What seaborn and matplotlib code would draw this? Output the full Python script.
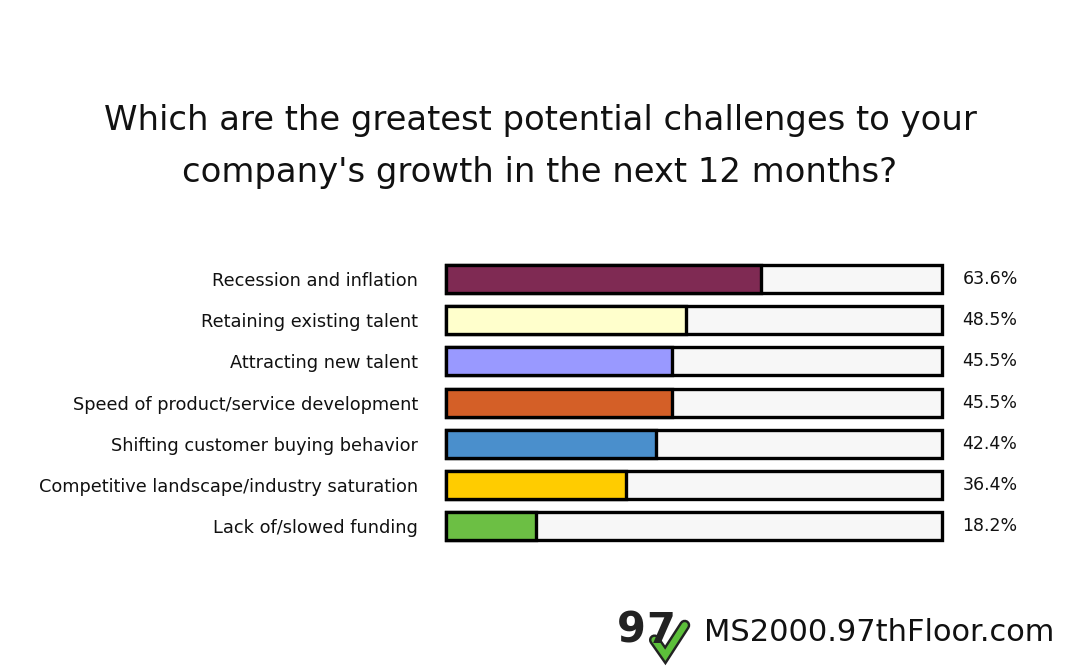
import matplotlib
matplotlib.use("Agg")
import matplotlib.pyplot as plt
import seaborn as sns
import pandas as pd
from matplotlib.lines import Line2D

categories = [
    "Recession and inflation",
    "Retaining existing talent",
    "Attracting new talent",
    "Speed of product/service development",
    "Shifting customer buying behavior",
    "Competitive landscape/industry saturation",
    "Lack of/slowed funding",
]
values = [63.6, 48.5, 45.5, 45.5, 42.4, 36.4, 18.2]
colors = ["#7f2a53", "#ffffcc", "#9999ff", "#d45f27", "#4a8fcc", "#ffcc00", "#6cbf44"]
title = "Which are the greatest potential challenges to your\ncompany's growth in the next 12 months?"
footer = "MS2000.97thFloor.com"

sns.set_theme(style="white")
plt.rcParams["font.family"] = ["DejaVu Sans"]

df = pd.DataFrame({"category": categories, "value": values, "full": [100] * len(values)})

fig = plt.figure(figsize=(10.8, 6.68), dpi=100)
fig.patch.set_facecolor("white")
ax = fig.add_axes([0.413, 0.1817, 0.459, 0.4314])

sns.barplot(data=df, x="full", y="category", color="#f7f7f7", edgecolor="black",
            linewidth=2.4, width=0.68, ax=ax, orient="h", saturation=1)
sns.barplot(data=df, x="value", y="category", hue="category", palette=colors,
            edgecolor="black", linewidth=2.4, width=0.68, ax=ax, orient="h",
            legend=False, dodge=False, saturation=1)
for p in ax.patches:
    p.set_clip_on(False)

ax.set_xlim(0, 100)
ax.set_ylim(6.5, -0.5)
ax.set_xlabel("")
ax.set_ylabel("")
ax.set_xticks([])
ax.tick_params(axis="y", length=0, pad=20, labelsize=12.8, labelcolor="#111111")
for s in ax.spines.values():
    s.set_visible(False)

for i, v in enumerate(values):
    ax.text(104.2, i, f"{v}%", va="center", ha="left", fontsize=12.5, color="#111111")

fig.text(0.5, 0.781, title, ha="center", va="center", fontsize=24.4, linespacing=1.75,
         color="#111111")

fig.text(0.976, 0.053, footer, ha="right", va="center", fontsize=22, color="#111111")
# simple logo: "97" with green check
fig.text(0.585, 0.056, "9", ha="center", va="center", fontsize=30, fontweight="bold", color="#222222")
fig.text(0.612, 0.056, "7", ha="center", va="center", fontsize=30, fontweight="bold", color="#222222")
chk_x = [0.606, 0.616, 0.634]
chk_y = [0.042, 0.019, 0.064]
fig.add_artist(Line2D(chk_x, chk_y, transform=fig.transFigure,
                      color="#222222", linewidth=8, solid_joinstyle="miter"))
fig.add_artist(Line2D(chk_x, chk_y, transform=fig.transFigure,
                      color="#5cbf3a", linewidth=4.5, solid_joinstyle="miter"))

fig.savefig("out.png", dpi=100, facecolor="white")
